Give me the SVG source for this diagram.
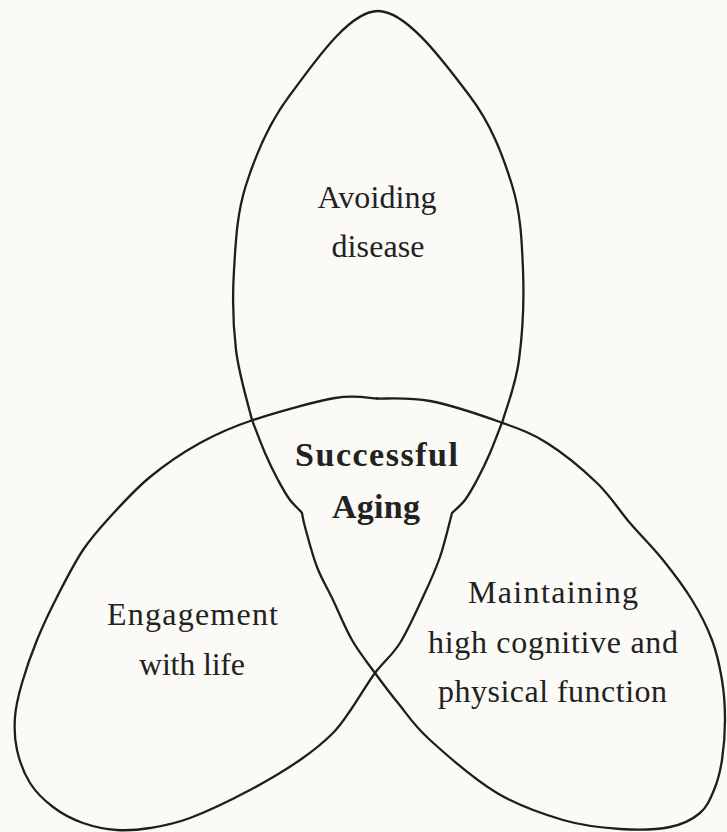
<svg xmlns="http://www.w3.org/2000/svg" width="727" height="832" viewBox="0 0 727 832">
<style>
.outline{fill:none;stroke:#1e1e1e;stroke-width:2.3;stroke-linejoin:round;stroke-linecap:round}
.lbl{font-family:"Liberation Serif","DejaVu Serif",serif;font-size:32px;fill:#222;text-anchor:middle}
.bold{font-weight:bold;font-size:34px}
</style>
<rect x="0" y="0" width="727" height="832" fill="#fbfaf6"/>
<g id="connectors"></g>
<g id="avoiding-disease">
<path class="outline" d="M 252,420 C 249.3,408.3 239,375 236,350 C 233,325 232.3,297.5 234,270 C 235.7,242.5 236.7,214.2 246,185 C 255.3,155.8 268,124 290,95 C 312,66 348.2,11 378,11 C 407.8,11 446.7,66 469,95 C 491.3,124 503,155.8 512,185 C 521,214.2 521.8,240.8 523,270 C 524.2,299.2 522.3,335 519,360 C 515.7,385 505.7,410 503,420"/>
<text class="lbl" x="377" y="208" textLength="119">Avoiding</text>
<text class="lbl" x="378" y="257" textLength="93">disease</text>
</g>
<g id="engagement-with-life">
<path class="outline" d="M 377,398.5 C 370,398.4 355.7,394.4 335,398 C 314.3,401.6 275.5,412.5 253,420 C 230.5,427.5 217.2,433.5 200,443 C 182.8,452.5 165,464.7 150,477 C 135,489.3 121.2,504.8 110,517 C 98.8,529.2 91.7,537 83,550 C 74.3,563 65.7,580 58,595 C 50.3,610 43,625.3 37,640 C 31,654.7 25.7,670.2 22,683 C 18.3,695.8 15.8,705.8 15,717 C 14.2,728.2 14.5,739 17,750 C 19.5,761 24,773.5 30,783 C 36,792.5 44.2,800.3 53,807 C 61.8,813.7 72.3,819.2 83,823 C 93.7,826.8 105.8,829.2 117,830 C 128.2,830.8 137.8,830 150,828 C 162.2,826 173.3,824.3 190,818 C 206.7,811.7 231.7,799.7 250,790 C 268.3,780.3 286.2,769.5 300,760 C 313.8,750.5 324.3,741.7 333,733 C 341.7,724.3 345,718 352,708 C 359,698 367,683.8 375,673 C 383,662.2 392,655.7 400,643 C 408,630.3 416.3,611.3 423,597 C 429.7,582.7 435.2,571 440,557 C 444.8,543 450,520.3 452,513 C 454.2,510.8 460.8,505.5 465,500 C 469.2,494.5 472.8,487.8 477,480 C 481.2,472.2 485.7,463 490,453 C 494.3,443 500.8,425.5 503,420"/>
<text class="lbl" x="192.5" y="625" textLength="171">Engagement</text>
<text class="lbl" x="192" y="675" textLength="106">with life</text>
</g>
<g id="maintaining-function">
<path class="outline" d="M 377,398.5 C 385.8,398.9 409.5,397.1 430,401 C 450.5,404.9 480.5,415 500,422 C 519.5,429 530.8,432.8 547,443 C 563.2,453.2 583.2,469.7 597,483 C 610.8,496.3 619,510.2 630,523 C 641,535.8 652.7,547.2 663,560 C 673.3,572.8 683.8,586.7 692,600 C 700.2,613.3 707,626.7 712,640 C 717,653.3 719.8,666.7 722,680 C 724.2,693.3 725,706.7 725,720 C 725,733.3 723.8,748.3 722,760 C 720.2,771.7 717.7,781.2 714,790 C 710.3,798.8 707.3,806.8 700,813 C 692.7,819.2 683.3,824.3 670,827 C 656.7,829.7 637.8,830.2 620,829 C 602.2,827.8 583.5,826 563,820 C 542.5,814 519.2,806.3 497,793 C 474.8,779.7 446.5,755 430,740 C 413.5,725 407.2,714.2 398,703 C 388.8,691.8 382.7,683.5 375,673 C 367.3,662.5 359,652.2 352,640 C 345,627.8 338.8,612.2 333,600 C 327.2,587.8 321.7,579.2 317,567 C 312.3,554.8 307.5,536 305,527 C 302.5,518 302.5,515.3 302,513 C 300.8,510.8 294.2,505.5 290,500 C 285.8,494.5 282.2,487.8 278,480 C 273.8,472.2 269.3,463 265,453 C 260.7,443 254.2,425.5 252,420"/>
<text class="lbl" x="553" y="603" textLength="170">Maintaining</text>
<text class="lbl" x="553" y="653" textLength="250">high cognitive and</text>
<text class="lbl" x="552.5" y="702" textLength="229">physical function</text>
</g>
<g id="successful-aging">
<text class="lbl bold" x="376.5" y="466" textLength="163">Successful</text>
<text class="lbl bold" x="376" y="518" textLength="88">Aging</text>
</g>
</svg>
